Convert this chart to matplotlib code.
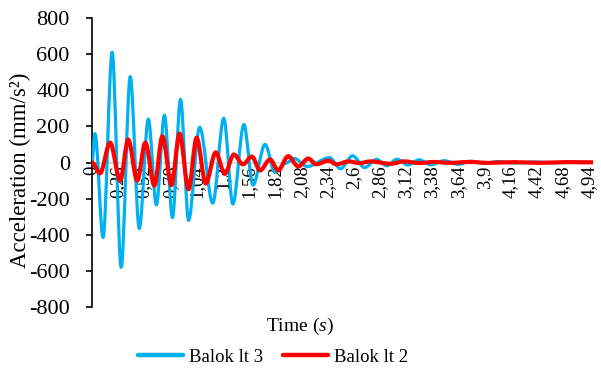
import matplotlib
matplotlib.use('Agg')
import matplotlib.pyplot as plt
from matplotlib.path import Path
from matplotlib.patches import PathPatch
from matplotlib.lines import Line2D

plt.rcParams['font.family'] = ['Liberation Serif', 'DejaVu Serif']
plt.rcParams['mathtext.fontset'] = 'custom'
plt.rcParams['mathtext.rm'] = 'Liberation Serif'
plt.rcParams['mathtext.it'] = 'Liberation Serif:italic'

# ---- data (extrema of each record) ----
series_names = ['Balok lt 3', 'Balok lt 2']

blue_t = [0.00, 0.03, 0.11, 0.20, 0.29, 0.38, 0.47, 0.56, 0.64, 0.72, 0.80, 0.88,
          0.96, 1.07, 1.20, 1.31, 1.40, 1.51, 1.60, 1.72, 1.82, 1.92, 2.01, 2.14,
          2.36, 2.47, 2.59, 2.71, 2.83, 2.93, 3.03, 3.14, 3.25, 3.37, 3.50, 3.64,
          3.77, 3.90, 4.03, 4.20, 4.40, 4.60, 4.80, 4.98]
blue_v = [0, 160, -415, 610, -580, 475, -365, 240, -235, 262, -305, 350,
          -320, 195, -225, 245, -230, 210, -125, 100, -55, -5, 22, -22,
          27, -34, 37, -28, 17, -18, 18, -14, 15, -13, 10, -10,
          7, -6, 5, -3, 3, -2, 2, 0]

red_t = [0.00, 0.08, 0.18, 0.28, 0.36, 0.45, 0.53, 0.62, 0.70, 0.79, 0.87, 0.96,
         1.04, 1.13, 1.23, 1.32, 1.41, 1.50, 1.59, 1.67, 1.77, 1.85, 1.95, 2.05,
         2.15, 2.23, 2.35, 2.43, 2.55, 2.66, 2.77, 2.97, 3.10, 3.25, 3.40, 3.55,
         3.75, 3.95, 4.20, 4.45, 4.70, 4.98]
red_v = [0, -60, 110, -100, 127, -100, 110, -128, 145, -125, 160, -148,
         137, -116, 56, -63, 44, -10, 33, -44, 17, -44, 35, -22,
         22, -10, 10, -10, 6, -3, 6, -7, 6, -3, 3, -2,
         3, -2, 2, -2, 2, 1]

x_tick_values = [0, 0.26, 0.52, 0.78, 1.04, 1.30, 1.56, 1.82, 2.08, 2.34, 2.60,
                 2.86, 3.12, 3.38, 3.64, 3.90, 4.16, 4.42, 4.68, 4.94]
x_tick_labels = ['0', '0,26', '0,52', '0,78', '1,04', '1,3', '1,56', '1,82', '2,08',
                 '2,34', '2,6', '2,86', '3,12', '3,38', '3,64', '3,9', '4,16',
                 '4,42', '4,68', '4,94']
y_ticks = [-800, -600, -400, -200, 0, 200, 400, 600, 800]

BLUE = '#00B0F0'
RED = '#FF0000'


def smooth_path(t, v):
    """Smoothed line (like a spreadsheet 'smoothed line') through the points."""
    verts = [(t[0], v[0])]
    codes = [Path.MOVETO]
    for i in range(len(t) - 1):
        h = t[i + 1] - t[i]
        verts += [(t[i] + h / 3, v[i]), (t[i + 1] - h / 3, v[i + 1]), (t[i + 1], v[i + 1])]
        codes += [Path.CURVE4] * 3
    return Path(verts, codes)


W, H = 601, 369
fig = plt.figure(figsize=(W / 100, H / 100), dpi=100)
ax = fig.add_axes([92 / W, 1 - 307 / H, (593 - 92) / W, (307 - 18) / H])

ax.add_patch(PathPatch(smooth_path(blue_t, blue_v), facecolor='none', edgecolor=BLUE,
                       lw=2.3, capstyle='round', joinstyle='round', zorder=3))
ax.add_patch(PathPatch(smooth_path(red_t, red_v), facecolor='none', edgecolor=RED,
                       lw=3.0, capstyle='round', joinstyle='round', zorder=4))

ax.set_xlim(0, 4.98)
ax.set_ylim(-800, 800)

ax.spines['top'].set_visible(False)
ax.spines['right'].set_visible(False)
ax.spines['bottom'].set_position(('data', 0))
ax.spines['bottom'].set_color('#D9D9D9')
ax.spines['bottom'].set_linewidth(1.4)
ax.spines['bottom'].set_zorder(1)
ax.spines['left'].set_color('black')
ax.spines['left'].set_linewidth(1.2)

ax.set_yticks(y_ticks)
ax.set_yticklabels([str(v) for v in y_ticks])
ax.tick_params(axis='y', direction='out', length=4, width=1.2, labelsize=16, pad=12)

ax.set_xticks(x_tick_values)
ax.set_xticklabels(x_tick_labels, rotation=90)
ax.tick_params(axis='x', length=0, labelsize=13.5, pad=2)

fig.text(20 / W, 1 - 170 / H, 'Acceleration (mm/s²)', rotation=90, ha='center',
         va='center', fontsize=16.5)
fig.text(300 / W, 1 - 326 / H, r'Time ($\mathit{s}$)', ha='center', va='center', fontsize=14)

handles = [Line2D([], [], color=BLUE, lw=3.2, solid_capstyle='round'),
           Line2D([], [], color=RED, lw=3.2, solid_capstyle='round')]
fig.legend(handles, series_names, loc='center', bbox_to_anchor=(273 / W, 1 - 357 / H),
           ncol=2, frameon=False, fontsize=13.5, handlelength=2.4, columnspacing=1.1,
           handletextpad=0.3, borderpad=0)

fig.savefig('out.png', dpi=100)
